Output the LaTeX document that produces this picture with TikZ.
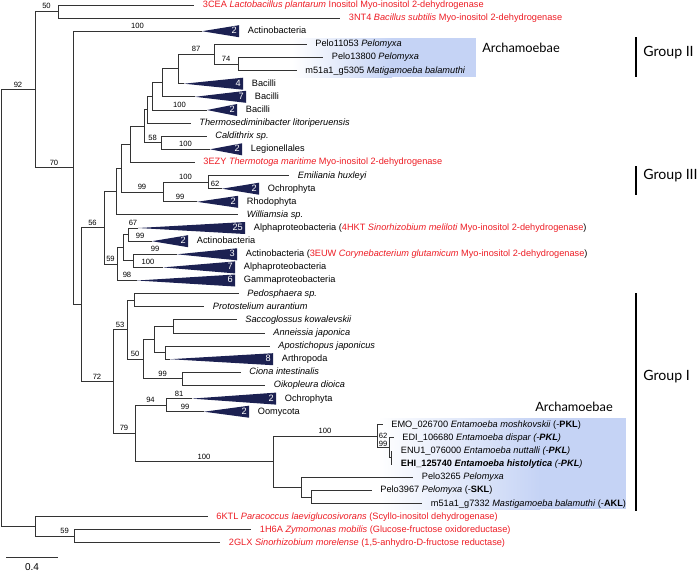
\documentclass[tikz,border=0pt]{standalone}
\usepackage{fontspec}
\setmainfont{Liberation Sans}
\newfontfamily\grpfont{Lato}
\begin{document}
\begin{tikzpicture}[x=0.75pt,y=-0.75pt,font=\fontsize{6.9}{8}\selectfont]
\definecolor{cred}{HTML}{ED1C24}\definecolor{cnavy}{HTML}{1C2152}
\definecolor{cshade}{HTML}{C5D3F5}
\tikzset{br/.style={draw=black!80,line width=0.75pt},
 tip/.style={anchor=west,inner xsep=6.5pt,inner ysep=0pt,text height=5pt,text depth=1.4pt},
 redtip/.style={tip,text=cred},
 clade/.style={fill=cnavy},
 cnt/.style={anchor=east,text=white,inner xsep=1.5pt,inner ysep=0pt,text height=5pt,text depth=1.4pt},
 bsx/.style={font=\fontsize{5.7}{6}\selectfont,inner sep=0pt},
 bs/.style={font=\fontsize{5.7}{6}\selectfont,above,inner sep=1.5pt,pos=0.75},
 grp/.style={font=\grpfont\fontsize{10.6}{12}\selectfont,anchor=west,inner sep=0pt},
 arch/.style={font=\grpfont\fontsize{9.6}{11}\selectfont,anchor=west,inner sep=0pt},
 bar/.style={line width=1.4pt}}
\useasboundingbox (0,0) rectangle (700,572);
% Archamoebae shading
\shade[left color=white,right color=cshade] (292,38) rectangle (392,77);
\fill[cshade] (391.5,38) rectangle (476,77);
\shade[left color=white,right color=cshade] (378,418) rectangle (540,509);
\fill[cshade] (539.5,418) rectangle (626,509);
% internal nodes
\coordinate (root) at (1,308.1);
\coordinate (n92) at (35,89.75);
\coordinate (n50a) at (58,11.55);
\coordinate (n70) at (73,167.95);
\coordinate (nX9) at (81,304.7);
\coordinate (n56) at (104,227.8);
\coordinate (nX8) at (116,191.55);
\coordinate (nX7) at (121,168.2);
\coordinate (nX6) at (130,144.35);
\coordinate (nX5) at (144,126.3);
\coordinate (nX4) at (147,109.8);
\coordinate (nX3) at (152,96.45);
\coordinate (nX2) at (162,82.9);
\coordinate (nX1) at (178,68.95);
\coordinate (n87) at (214,54.2);
\coordinate (n74) at (238,64.05);
\coordinate (n58) at (161,142.75);
\coordinate (n99a) at (163,192.0);
\coordinate (n100b) at (208,182.15);
\coordinate (n59a) at (117,264.1);
\coordinate (nX13) at (123,247.7);
\coordinate (nX11) at (128,234.6);
\coordinate (nX12) at (133,260.85);
\coordinate (n72) at (113,381.55);
\coordinate (n53) at (127,329.7);
\coordinate (nPP) at (134,300.2);
\coordinate (n50b) at (143,359.25);
\coordinate (nX14) at (154,339.55);
\coordinate (nSA) at (173,326.45);
\coordinate (nAA) at (165,352.65);
\coordinate (n99b) at (182,378.95);
\coordinate (n79) at (135,433.4);
\coordinate (n94) at (166,405.15);
\coordinate (n100c) at (273,461.7);
\coordinate (nE1) at (377,436.3);
\coordinate (nE2) at (389,447.8);
\coordinate (nE3) at (391,457.65);
\coordinate (nX15) at (301,487.15);
\coordinate (nX16) at (311,497.0);
\coordinate (nOut) at (35,526.5);
\coordinate (n59b) at (74,536.35);
% collapsed clades
\coordinate (aAct1) at (202,31.2);
\coordinate (aB4) at (184,83.7);
\coordinate (aB7) at (195,96.8);
\coordinate (aB2) at (207,110.0);
\coordinate (aLeg) at (210,149.3);
\coordinate (aOch1) at (222,188.7);
\coordinate (aRho) at (197,201.8);
\coordinate (aAlp25) at (138,228.0);
\coordinate (aAct2) at (152,241.2);
\coordinate (aAct3) at (177,254.3);
\coordinate (aAlp7) at (163,267.4);
\coordinate (aGam) at (137,280.5);
\coordinate (aArth) at (170,359.2);
\coordinate (aOch2) at (192,398.6);
\coordinate (aOomy) at (204,411.7);
\fill[clade] (aAct1) -- (239,25.2) -- (239,37.2) -- cycle;
\fill[clade] (aB4) -- (243,77.7) -- (243,89.7) -- cycle;
\fill[clade] (aB7) -- (246,90.8) -- (246,102.8) -- cycle;
\fill[clade] (aB2) -- (237,104.0) -- (237,116.0) -- cycle;
\fill[clade] (aLeg) -- (242,143.3) -- (242,155.3) -- cycle;
\fill[clade] (aOch1) -- (259,182.7) -- (259,194.7) -- cycle;
\fill[clade] (aRho) -- (238,195.8) -- (238,207.8) -- cycle;
\fill[clade] (aAlp25) -- (245,222.0) -- (245,234.0) -- cycle;
\fill[clade] (aAct2) -- (188,235.2) -- (188,247.2) -- cycle;
\fill[clade] (aAct3) -- (237,248.3) -- (237,260.3) -- cycle;
\fill[clade] (aAlp7) -- (235,261.4) -- (235,273.4) -- cycle;
\fill[clade] (aGam) -- (235,274.5) -- (235,286.5) -- cycle;
\fill[clade] (aArth) -- (273,353.2) -- (273,365.2) -- cycle;
\fill[clade] (aOch2) -- (276,392.6) -- (276,404.6) -- cycle;
\fill[clade] (aOomy) -- (249,405.7) -- (249,417.7) -- cycle;
\node[cnt] at (239,31.2) {2};
\node[cnt] at (243,83.7) {4};
\node[cnt] at (246,96.8) {7};
\node[cnt] at (237,110.0) {2};
\node[cnt] at (242,149.3) {2};
\node[cnt] at (259,188.7) {2};
\node[cnt] at (238,201.8) {2};
\node[cnt] at (245,228.0) {25};
\node[cnt] at (188,241.2) {2};
\node[cnt] at (237,254.3) {3};
\node[cnt] at (235,267.4) {7};
\node[cnt] at (235,280.5) {6};
\node[cnt] at (273,359.2) {8};
\node[cnt] at (276,398.6) {2};
\node[cnt] at (249,411.7) {2};
\node[tip] (lAct1) at (239,31.2) {Actinobacteria};
\node[tip] (lB4) at (243,83.7) {Bacilli};
\node[tip] (lB7) at (246,96.8) {Bacilli};
\node[tip] (lB2) at (237,110.0) {Bacilli};
\node[tip] (lLeg) at (242,149.3) {Legionellales};
\node[tip] (lOch1) at (259,188.7) {Ochrophyta};
\node[tip] (lRho) at (238,201.8) {Rhodophyta};
\node[tip] (lAlp25) at (245,228.0) {Alphaproteobacteria (\textcolor{cred}{4HKT \textit{Sinorhizobium meliloti} Myo-inositol 2-dehydrogenase})};
\node[tip] (lAct2) at (188,241.2) {Actinobacteria};
\node[tip] (lAct3) at (237,254.3) {Actinobacteria (\textcolor{cred}{3EUW \textit{Corynebacterium glutamicum} Myo-inositol 2-dehydrogenase})};
\node[tip] (lAlp7) at (235,267.4) {Alphaproteobacteria};
\node[tip] (lGam) at (235,280.5) {Gammaproteobacteria};
\node[tip] (lArth) at (273,359.2) {Arthropoda};
\node[tip] (lOch2) at (276,398.6) {Ochrophyta};
\node[tip] (lOomy) at (249,411.7) {Oomycota};
% leaves
\node[redtip] (t3CEA) at (194,5.0) {3CEA \textit{Lactobacillus plantarum} Inositol Myo-inositol 2-dehydrogenase};
\node[redtip] (t3NT4) at (340,18.1) {3NT4 \textit{Bacillus subtilis} Myo-inositol 2-dehydrogenase};
\node[tip] (Pelo11053) at (306.5,44.4) {Pelo11053 \textit{Pelomyxa}};
\node[tip] (Pelo13800) at (323,57.5) {Pelo13800 \textit{Pelomyxa}};
\node[tip] (m51a) at (296.5,70.6) {m51a1\_g5305 \textit{Matigamoeba balamuthi}};
\node[tip] (Thermo) at (190.5,123.1) {\textit{Thermosediminibacter litoriperuensis}};
\node[tip] (Cald) at (206.5,136.2) {\textit{Caldithrix sp.}};
\node[redtip] (t3EZY) at (194.5,162.4) {3EZY \textit{Thermotoga maritime} Myo-inositol 2-dehydrogenase};
\node[tip] (Emil) at (289,175.6) {\textit{Emiliania huxleyi}};
\node[tip] (Will) at (238,214.9) {\textit{Williamsia sp.}};
\node[tip] (Pedo) at (238.5,293.6) {\textit{Pedosphaera sp.}};
\node[tip] (Proto) at (204,306.8) {\textit{Protostelium aurantium}};
\node[tip] (Sacco) at (236.5,319.9) {\textit{Saccoglossus kowalevskii}};
\node[tip] (Ann) at (264.5,333.0) {\textit{Anneissia japonica}};
\node[tip] (Apos) at (269.5,346.1) {\textit{Apostichopus japonicus}};
\node[tip] (Ciona) at (240.5,372.4) {\textit{Ciona intestinalis}};
\node[tip] (Oiko) at (265,385.5) {\textit{Oikopleura dioica}};
\node[tip] (EMO) at (382.5,424.8) {EMO\_026700 \textit{Entamoeba moshkovskii} (-\textbf{PKL})};
\node[tip] (EDI) at (393.5,437.9) {EDI\_106680 \textit{Entamoeba dispar (-\textbf{PKL})}};
\node[tip] (ENU) at (392,451.1) {ENU1\_076000 \textit{Entamoeba nuttalli (-\textbf{PKL})}};
\node[tip] (EHI) at (392,464.2) {\textbf{EHI\_125740 \textit{Entamoeba histolytica}} \textit{(-\textbf{PKL})}};
\node[tip] (Pelo3265) at (413,477.3) {Pelo3265 \textit{Pelomyxa}};
\node[tip] (Pelo3967) at (371.5,490.4) {Pelo3967 \textit{Pelomyxa} (-\textbf{SKL})};
\node[tip] (m51b) at (422,503.6) {m51a1\_g7332 \textit{Mastigamoeba balamuthi} (-\textbf{AKL})};
\node[redtip] (t6KTL) at (207.5,516.7) {6KTL \textit{Paracoccus laeviglucosivorans} (Scyllo-inositol dehydrogenase)};
\node[redtip] (t1H6A) at (251,529.8) {1H6A \textit{Zymomonas mobilis} (Glucose-fructose oxidoreductase)};
\node[redtip] (t2GLX) at (220,542.9) {2GLX \textit{Sinorhizobium morelense} (1,5-anhydro-D-fructose reductase)};
% branches
\draw[br] (root) |- node[bs]{92} (n92);
\draw[br] (root) |- (nOut);
\draw[br] (n92) |- node[bs]{50} (n50a);
\draw[br] (n92) |- node[bs]{70} (n70);
\draw[br] (n50a) |- (t3CEA.west);
\draw[br] (n50a) |- (t3NT4.west);
\draw[br] (n70) |- node[bs]{100} (aAct1);
\draw[br] (n70) |- (nX9);
\draw[br] (nX9) |- node[bs]{56} (n56);
\draw[br] (nX9) |- node[bs]{72} (n72);
\draw[br] (n56) |- (nX8);
\draw[br] (n56) |- node[bs]{59} (n59a);
\draw[br] (nX8) |- (nX7);
\draw[br] (nX8) |- (Will.west);
\draw[br] (nX7) |- (nX6);
\draw[br] (nX7) |- node[bs]{99} (n99a);
\draw[br] (nX6) |- (nX5);
\draw[br] (nX6) |- (t3EZY.west);
\draw[br] (nX5) |- (nX4);
\draw[br] (nX5) |- node[bs]{58} (n58);
\draw[br] (nX4) |- (nX3);
\draw[br] (nX4) |- (Thermo.west);
\draw[br] (nX3) |- (nX2);
\draw[br] (nX3) |- node[bs]{100} (aB2);
\draw[br] (nX2) |- (nX1);
\draw[br] (nX2) |- (aB7);
\draw[br] (nX1) |- node[bs]{87} (n87);
\draw[br] (nX1) |- (aB4);
\draw[br] (n87) |- (Pelo11053.west);
\draw[br] (n87) |- node[bs]{74} (n74);
\draw[br] (n74) |- (Pelo13800.west);
\draw[br] (n74) |- (m51a.west);
\draw[br] (n58) |- (Cald.west);
\draw[br] (n58) |- node[bs]{100} (aLeg);
\draw[br] (n99a) |- node[bs]{100} (n100b);
\draw[br] (n99a) |- node[bs]{99} (aRho);
\draw[br] (n100b) |- (Emil.west);
\draw[br] (n100b) |- node[bs]{62} (aOch1);
\draw[br] (n59a) |- (nX13);
\draw[br] (n59a) |- node[bs]{98} (aGam);
\draw[br] (nX13) |- (nX11);
\draw[br] (nX13) |- (nX12);
\draw[br] (nX11) |- node[bs]{67} (aAlp25);
\draw[br] (nX11) |- node[bs]{99} (aAct2);
\draw[br] (nX12) |- node[bs]{99} (aAct3);
\draw[br] (nX12) |- node[bs]{100} (aAlp7);
\draw[br] (n72) |- node[bs]{53} (n53);
\draw[br] (n72) |- node[bs]{79} (n79);
\draw[br] (n53) |- (nPP);
\draw[br] (n53) |- node[bs]{50} (n50b);
\draw[br] (nPP) |- (Pedo.west);
\draw[br] (nPP) |- (Proto.west);
\draw[br] (n50b) |- (nX14);
\draw[br] (n50b) |- node[bs]{99} (n99b);
\draw[br] (nX14) |- (nSA);
\draw[br] (nX14) |- (nAA);
\draw[br] (nSA) |- (Sacco.west);
\draw[br] (nSA) |- (Ann.west);
\draw[br] (nAA) |- (Apos.west);
\draw[br] (nAA) |- (aArth);
\draw[br] (n99b) |- (Ciona.west);
\draw[br] (n99b) |- (Oiko.west);
\draw[br] (n79) |- node[bs]{94} (n94);
\draw[br] (n79) |- node[bs]{100} (n100c);
\draw[br] (n94) |- node[bs]{81} (aOch2);
\draw[br] (n94) |- node[bs]{99} (aOomy);
\draw[br] (n100c) |- node[bs]{100} (nE1);
\draw[br] (n100c) |- (nX15);
\draw[br] (nE1) |- (EMO.west);
\draw[br] (nE1) |- (nE2);
\draw[br] (nE2) |- (EDI.west);
\draw[br] (nE2) |- (nE3);
\draw[br] (nE3) |- (ENU.west);
\draw[br] (nE3) |- (EHI.west);
\draw[br] (nX15) |- (Pelo3265.west);
\draw[br] (nX15) |- (nX16);
\draw[br] (nX16) |- (Pelo3967.west);
\draw[br] (nX16) |- (m51b.west);
\draw[br] (nOut) |- (t6KTL.west);
\draw[br] (nOut) |- node[bs,pos=0.88]{59} (n59b);
\draw[br] (n59b) |- (t1H6A.west);
\draw[br] (n59b) |- (t2GLX.west);
\node[bsx] (bE2) at (383,436) {62};
\node[bsx] (bE3) at (383,443.5) {99};
% groups
\node[arch] (arch1) at (482,48) {Archamoebae};
\node[arch] (arch2) at (535,407) {Archamoebae};
\draw[bar] (636,37) -- (636,77);
\draw[bar] (636,166) -- (636,195);
\draw[bar] (636,293) -- (636,511);
\node[grp] (g2) at (643,53) {Group II};
\node[grp] (g3) at (643,176) {Group III};
\node[grp] (g1) at (643,377) {Group I};
% scale
\coordinate (sL) at (6,557);
\coordinate (sR) at (58,557);
\draw[br] (sL) -- (sR);
\node[font=\fontsize{7.5}{9}\selectfont] (scl) at (32,567) {0.4};
\end{tikzpicture}
\end{document}
